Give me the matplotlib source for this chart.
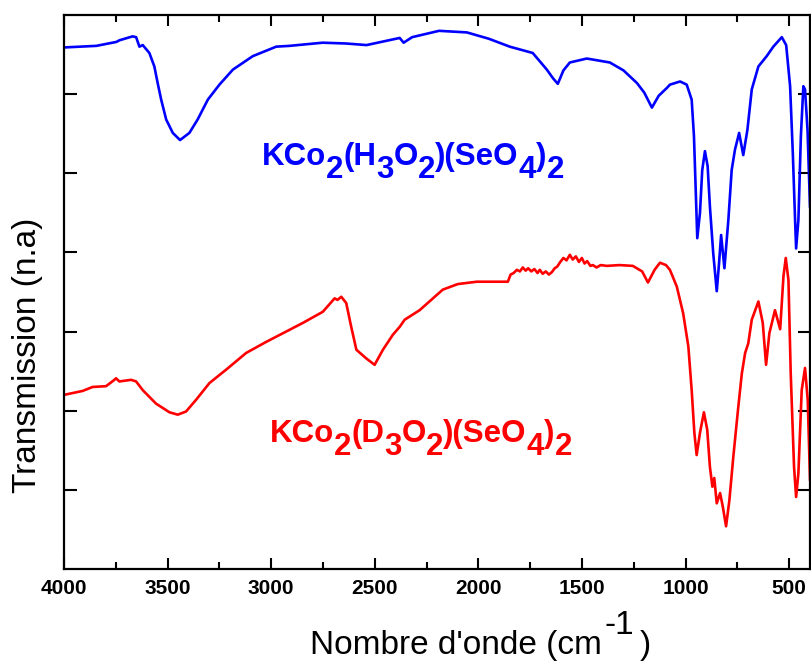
import matplotlib.pyplot as plt
from matplotlib.ticker import MultipleLocator

plt.rcParams['font.family'] = ['Liberation Sans', 'DejaVu Sans']

# spectrum of the hydrated compound (blue)
wn_h = [4000, 3844, 3747, 3733, 3669, 3652, 3636, 3620, 3588, 3564, 3548, 3531,
        3507, 3475, 3440, 3395, 3355, 3306, 3250, 3185, 3089, 2976, 2912, 2752,
        2640, 2540, 2380, 2361, 2320, 2190, 2056, 1950, 1849, 1738, 1670, 1640,
        1617, 1590, 1559, 1477, 1366, 1300, 1235, 1200, 1163, 1130, 1090, 1076,
        1027, 995, 971, 960, 952, 944, 931, 920, 907, 894, 883, 867, 850, 839,
        829, 813, 794, 778, 762, 742, 722, 702, 681, 649, 609, 577, 536, 515,
        496, 483, 472, 467, 456, 444, 432, 424, 412, 400]
tr_h = [6.59, 6.61, 6.66, 6.68, 6.73, 6.72, 6.60, 6.62, 6.52, 6.35, 6.14, 5.93,
        5.68, 5.51, 5.42, 5.51, 5.68, 5.93, 6.12, 6.31, 6.48, 6.60, 6.61, 6.65,
        6.64, 6.62, 6.71, 6.65, 6.72, 6.80, 6.78, 6.70, 6.60, 6.52, 6.31, 6.20,
        6.13, 6.30, 6.40, 6.45, 6.40, 6.30, 6.14, 6.02, 5.83, 5.98, 6.08, 6.12,
        6.16, 6.12, 5.93, 5.47, 4.83, 4.18, 4.50, 5.04, 5.28, 5.09, 4.58, 3.99,
        3.51, 3.86, 4.22, 3.80, 4.41, 5.04, 5.30, 5.51, 5.23, 5.55, 6.06, 6.35,
        6.48, 6.60, 6.72, 6.62, 6.10, 5.26, 4.41, 4.05, 4.41, 5.47, 6.10, 6.06,
        5.55, 4.58]

# spectrum of the deuterated compound (red)
wn_d = [4000, 3910, 3862, 3797, 3757, 3749, 3733, 3676, 3652, 3620, 3556, 3491,
        3451, 3411, 3362, 3298, 3217, 3121, 3024, 2928, 2847, 2751, 2694, 2680,
        2662, 2638, 2614, 2589, 2541, 2501, 2461, 2413, 2380, 2356, 2284, 2172,
        2100, 2008, 1900, 1858, 1845, 1830, 1815, 1800, 1786, 1772, 1760, 1745,
        1730, 1715, 1704, 1690, 1675, 1660, 1646, 1632, 1620, 1605, 1590, 1575,
        1559, 1545, 1530, 1515, 1501, 1488, 1475, 1460, 1448, 1430, 1410, 1380,
        1320, 1255, 1210, 1182, 1150, 1124, 1095, 1076, 1043, 1012, 987, 971,
        958, 947, 931, 912, 896, 883, 871, 862, 850, 834, 821, 805, 789, 770,
        746, 729, 713, 698, 681, 649, 628, 612, 596, 569, 544, 528, 517, 504,
        493, 477, 467, 456, 440, 424, 411, 400]
tr_d = [2.20, 2.25, 2.30, 2.31, 2.39, 2.41, 2.37, 2.39, 2.37, 2.26, 2.09, 1.98,
        1.95, 1.99, 2.14, 2.35, 2.52, 2.73, 2.87, 3.00, 3.11, 3.25, 3.42, 3.40,
        3.44, 3.36, 3.06, 2.77, 2.66, 2.58, 2.77, 2.96, 3.06, 3.15, 3.27, 3.53,
        3.60, 3.63, 3.63, 3.63, 3.72, 3.74, 3.78, 3.76, 3.81, 3.77, 3.80, 3.76,
        3.79, 3.74, 3.78, 3.73, 3.76, 3.72, 3.75, 3.80, 3.82, 3.88, 3.93, 3.90,
        3.97, 3.91, 3.95, 3.88, 3.93, 3.86, 3.89, 3.83, 3.84, 3.81, 3.84, 3.83,
        3.84, 3.83, 3.76, 3.62, 3.78, 3.87, 3.84, 3.78, 3.57, 3.23, 2.81, 2.26,
        1.72, 1.44, 1.72, 1.98, 1.76, 1.29, 1.04, 1.15, 0.83, 0.96, 0.79, 0.54,
        0.87, 1.42, 2.05, 2.47, 2.73, 2.85, 3.15, 3.38, 3.11, 2.58, 2.98, 3.27,
        3.03, 3.70, 3.93, 3.65, 2.47, 1.29, 0.91, 1.21, 2.26, 2.54, 2.14, 1.13]

label_h = [('KCo', 0), ('2', 1), ('(H', 0), ('3', 1), ('O', 0), ('2', 1),
           (')(SeO', 0), ('4', 1), (')', 0), ('2', 1)]
label_d = [('KCo', 0), ('2', 1), ('(D', 0), ('3', 1), ('O', 0), ('2', 1),
           (')(SeO', 0), ('4', 1), (')', 0), ('2', 1)]


def chem_label(ax, x, y, parts, color):
    # subscripts in the original are full size, just dropped below the baseline
    t = ax.text(x, y, parts[0][0], color=color, fontsize=22.5,
                fontweight='bold', ha='left', va='baseline')
    for s, sub in parts[1:]:
        t = ax.annotate(s, xy=(1, y), xycoords=(t, 'data'),
                        xytext=(0, -9.5 if sub else 0), textcoords='offset points',
                        color=color, fontsize=22.5, fontweight='bold',
                        ha='left', va='baseline')


fig = plt.figure(figsize=(8.11, 6.62), dpi=100)
ax = fig.add_axes([64 / 811, 1 - 569 / 662, 746 / 811, 554 / 662])

ax.plot(wn_h, tr_h, color='#0000ff', lw=1.9)
ax.plot(wn_d, tr_d, color='#ff0000', lw=1.9)

ax.set_xlim(4000, 400)
ax.set_ylim(0, 7)
ax.xaxis.set_major_locator(MultipleLocator(500))
ax.xaxis.set_minor_locator(MultipleLocator(250))
ax.set_yticks([1, 2, 3, 4, 5, 6])
ax.set_yticklabels([])
ax.tick_params(axis='x', which='both', direction='in', top=True, pad=7,
               labelsize=15, width=1.5)
ax.tick_params(axis='x', which='major', length=8)
ax.tick_params(axis='x', which='minor', length=5)
ax.tick_params(axis='y', direction='in', right=True, length=9, width=1.5)
for lab in ax.get_xticklabels():
    lab.set_fontweight('bold')
for sp in ax.spines.values():
    sp.set_linewidth(1.6)

chem_label(ax, 3047, 5.11, label_h, '#0000ff')
chem_label(ax, 3008, 1.61, label_d, '#ff0000')

# axis titles, the -1 exponent is full size as in the original
fig.text(28 / 811, 1 - 355 / 662, 'Transmission (n.a)', rotation=90,
         ha='center', va='center', fontsize=24)
t = ax.annotate("Nombre d'onde (cm", xy=(310, 8), xycoords='figure pixels',
                fontsize=24, ha='left', va='baseline')
t = ax.annotate('-1', xy=(1, 8), xycoords=(t, 'figure pixels'),
                xytext=(2, 14.5), textcoords='offset points',
                fontsize=24, ha='left', va='baseline')
ax.annotate(')', xy=(1, 8), xycoords=(t, 'figure pixels'),
            xytext=(4, 0), textcoords='offset points',
            fontsize=24, ha='left', va='baseline')

fig.savefig('out.png', dpi=100)
